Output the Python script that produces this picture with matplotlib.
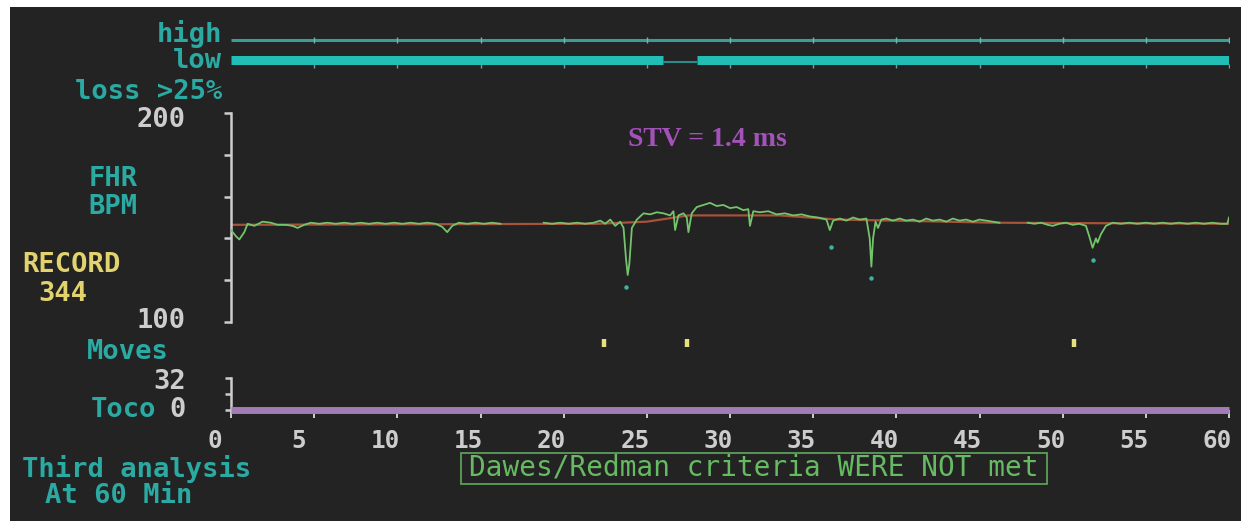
import numpy as np
import matplotlib
matplotlib.use("Agg")
import matplotlib.pyplot as plt
from matplotlib.patches import Rectangle
from matplotlib.transforms import ScaledTranslation

# ---------------- data ----------------
minutes_ticks = [0, 5, 10, 15, 20, 25, 30, 35, 40, 45, 50, 55, 60]

# signal quality rows (start, end) in minutes
high_segments = [(0, 60)]
low_segments = [(0, 26.0), (28.0, 60)]
low_gap = [(26.0, 28.0)]

# FHR trace (min, bpm); NaN = signal loss
fhr_t = [0.0, 0.3, 0.5, 0.8, 1.0, 1.4, 1.9, 2.4, 2.8, 3.3, 3.7, 4.0, 4.4, 4.8, 5.3, 5.8,
         6.3, 6.8, 7.3, 7.8, 8.3, 8.8, 9.3, 9.8, 10.3, 10.8, 11.3, 11.8, 12.3, 12.7, 13.0,
         13.3, 13.7, 14.2, 14.7, 15.2, 15.7, 16.2, 17.5, 18.8, 19.3, 19.8, 20.3, 20.8, 21.3,
         21.8, 22.2, 22.5, 22.8, 23.1, 23.4, 23.6, 23.75, 23.85, 23.95, 24.1, 24.4, 24.8,
         25.2, 25.6, 26.0, 26.4, 26.6, 26.7, 26.9, 27.2, 27.4, 27.5, 27.7, 28.0, 28.4, 28.8,
         29.2, 29.6, 30.0, 30.4, 30.8, 31.1, 31.2, 31.4, 31.8, 32.3, 32.8, 33.3, 33.8, 34.3,
         34.8, 35.3, 35.8, 36.0, 36.2, 36.6, 37.0, 37.4, 37.8, 38.2, 38.4, 38.5, 38.6, 38.75,
         38.9, 39.1, 39.4, 39.8, 40.2, 40.6, 41.0, 41.4, 41.8, 42.2, 42.6, 43.0, 43.4, 43.8,
         44.2, 44.6, 45.0, 45.4, 45.8, 46.2, 47.0, 47.9, 48.3, 48.7, 49.1, 49.4, 49.8, 50.2,
         50.6, 51.0, 51.4, 51.6, 51.8, 52.0, 52.1, 52.3, 52.6, 53.0, 53.5, 54.0, 54.5, 55.0,
         55.5, 56.0, 56.5, 57.0, 57.5, 58.0, 58.5, 59.0, 59.5, 59.9, 60.0]
fhr_bpm = [144, 141, 139.5, 143, 147, 146, 148, 147.5, 146.5, 146.5, 146, 145, 146.5, 147.5, 147, 147.5,
           147, 147.5, 147, 147.5, 147, 147.5, 147, 147.5, 147, 147.5, 147, 147.5, 147, 145.5, 143,
           146, 147.5, 147, 147.5, 147, 147.5, 147, np.nan, 147.5, 147, 147.5, 147, 147.5, 147,
           147.5, 148.5, 147, 149, 146, 148, 145, 130, 122.5, 128, 145, 149, 152,
           151.5, 152.5, 152, 151, 153, 144, 151, 152, 150, 143, 152, 155, 156, 157,
           155.5, 156, 154.5, 155, 153.5, 154, 146, 153, 152.5, 153, 151.5, 152, 151, 151.5,
           150.5, 150, 149, 144, 148.5, 149.5, 148.5, 150, 149, 149.5, 140, 126.5, 140, 148,
           145, 149, 149.5, 148.5, 149.5, 148.5, 149, 148, 149.5, 148.5, 149, 148, 149.5, 148.5,
           149, 148, 149, 148.5, 148, 147.5, np.nan, 147.5, 147, 147.5, 146.5, 146, 147, 147.5,
           146.5, 147, 146, 141, 135.5, 140, 138, 142, 146, 147.5, 147, 147.5, 147, 147.5,
           147, 147.5, 147, 147.5, 147, 147.5, 147, 147.5, 147, 147, 150]

# baseline (min, bpm)
base_t = [0, 22, 25, 27.5, 33, 36.5, 40, 46, 60]
base_bpm = [146.5, 147, 148, 151, 151, 149, 148.5, 147.5, 147]

# deceleration markers
decel_t = [23.75, 36.1, 38.5, 51.8]
decel_bpm = [116.7, 136, 121, 129.7]

# fetal movements
moves_t = [22.4, 27.4, 50.7]

# toco
toco_t = [0, 60]
toco_val = [0, 0]

# ---------------- style ----------------
W, H = 1241, 521
BG = "#232323"
CYAN = "#2aaaa2"
GRAY = "#cdcdcd"
YELLOW = "#e2d36e"
MONO = "DejaVu Sans Mono"

fig = plt.figure(figsize=(W / 100, H / 100), dpi=100, facecolor="white")
fig.patches.append(Rectangle((10 / W, 0), 1, 1 - 7 / H, transform=fig.transFigure,
                             facecolor=BG, edgecolor="none", zorder=-10))


def rect(x0, y_top, x1, y_bot):
    return [x0 / W, 1 - y_bot / H, (x1 - x0) / W, (y_bot - y_top) / H]


def ftext(x, y, s, ha="left", color=CYAN, size=19.5, weight="bold", family=MONO, **kw):
    fig.text(x / W, 1 - y / H, s, ha=ha, va="center", color=color, fontsize=size,
             fontweight=weight, family=family, **kw)


def clean(ax):
    ax.set_facecolor("none")
    for s in ax.spines.values():
        s.set_visible(False)
    ax.set_xlim(0, 60)
    ax.set_xticks([])
    ax.set_yticks([])


X0, X1 = 231, 1229

# --- top quality panel ---
ax_q = fig.add_axes(rect(X0, 30, X1, 70))
clean(ax_q)
ax_q.set_ylim(1.5, -0.5)
for a, b in high_segments:
    ax_q.plot([a, b], [0, 0], color="#3a9d98", lw=2.2, solid_capstyle="butt")
for a, b in low_segments:
    ax_q.plot([a, b], [1, 1], color="#22bdb4", lw=6.5, solid_capstyle="butt")
for a, b in low_gap:
    ax_q.plot([a, b], [1.12, 1.12], color="#2a8c88", lw=1.5, solid_capstyle="butt")
ax_q.plot(minutes_ticks[1:], [0] * 12, ls="none", marker="|", ms=5, mew=1.0, color="#6cb8b3")
ax_q.plot(minutes_ticks[1:], [1.3] * 12, ls="none", marker="|", ms=3.5, mew=1.0, color="#5aa9a4")

# --- FHR panel ---
ax_f = fig.add_axes(rect(X0, 113, X1, 322))
ax_f.set_facecolor("none")
for k in ["top", "right", "bottom"]:
    ax_f.spines[k].set_visible(False)
ax_f.spines["left"].set_color(GRAY)
ax_f.spines["left"].set_linewidth(1.8)
ax_f.set_xlim(0, 60)
ax_f.set_ylim(100, 200)
ax_f.set_xticks([])
ax_f.set_yticks([100, 120, 140, 160, 180, 200])
ax_f.set_yticklabels([])
ax_f.tick_params(axis="y", direction="out", length=5, width=1.8, color=GRAY)
ax_f.plot(base_t, base_bpm, color="#a5533a", lw=1.6, zorder=2)
ax_f.plot(fhr_t, fhr_bpm, color="#74c46c", lw=1.3, zorder=3)
ax_f.plot(decel_t, decel_bpm, ls="none", marker="o", ms=3.2, color="#3fb3a2", mec="none", zorder=3)
fig.text(707 / W, 1 - 140 / H, "STV = 1.4 ms", ha="center", va="center", color="#a252b8",
         fontsize=20, fontweight="bold", family="Liberation Serif")

# --- moves panel ---
ax_m = fig.add_axes(rect(X0, 330, X1, 355))
clean(ax_m)
ax_m.set_ylim(0, 1)
ax_m.plot(moves_t, [0.5] * len(moves_t), ls="none", marker="|", ms=5.5, mew=3.2, color="#e8df80")

# --- toco panel ---
ax_t = fig.add_axes(rect(X0, 378, X1, 410))
ax_t.set_facecolor("none")
for k in ["top", "right", "bottom"]:
    ax_t.spines[k].set_visible(False)
ax_t.spines["left"].set_color(GRAY)
ax_t.spines["left"].set_linewidth(1.8)
ax_t.set_xlim(0, 60)
ax_t.set_ylim(0, 32)
ax_t.set_yticks([0, 16, 32])
ax_t.set_yticklabels([])
ax_t.tick_params(axis="y", direction="out", length=4, width=1.8, color=GRAY)
ax_t.plot(toco_t, toco_val, color="#a27cb4", lw=5, solid_capstyle="butt", clip_on=False, zorder=3)
ax_t.set_xticks(minutes_ticks)
ax_t.set_xticklabels([str(m) for m in minutes_ticks])
ax_t.tick_params(axis="x", direction="out", length=6, width=1.4, color=GRAY, pad=8,
                 labelsize=17.5, labelcolor=GRAY)
for lab, m in zip(ax_t.get_xticklabels(), minutes_ticks):
    dx = -16 if m < 10 else -12
    lab.set_family(MONO)
    lab.set_fontweight("bold")
    lab.set_transform(lab.get_transform() + ScaledTranslation(dx / 100, 0, fig.dpi_scale_trans))

# --- left labels ---
ftext(222, 34, "high", ha="right")
ftext(222, 61, "low", ha="right")
ftext(222, 92, "loss >25%", ha="right")
ftext(186, 120, "200", ha="right", color=GRAY)
ftext(113, 179, "FHR", ha="center")
ftext(113, 207, "BPM", ha="center")
ftext(22, 265, "RECORD", color=YELLOW)
ftext(38, 294, "344", color=YELLOW)
ftext(186, 321, "100", ha="right", color=GRAY)
ftext(87, 352, "Moves")
ftext(186, 382, "32", ha="right", color=GRAY)
ftext(156, 410, "Toco", ha="right", color=CYAN)
ftext(186, 410, "0", ha="right", color=GRAY)
ftext(22, 469, "Third analysis")
ftext(45, 496, "At 60 Min")

# --- criteria box ---
fig.patches.append(Rectangle((461 / W, 1 - 484 / H), (1047 - 461) / W, 31 / H,
                             transform=fig.transFigure, facecolor="none",
                             edgecolor="#5c9e5a", lw=1.3))
ftext(754, 468, "Dawes/Redman criteria WERE NOT met", ha="center", color="#66bb62",
      size=20, weight="normal")

fig.savefig("out.png", dpi=100, facecolor=fig.get_facecolor())
